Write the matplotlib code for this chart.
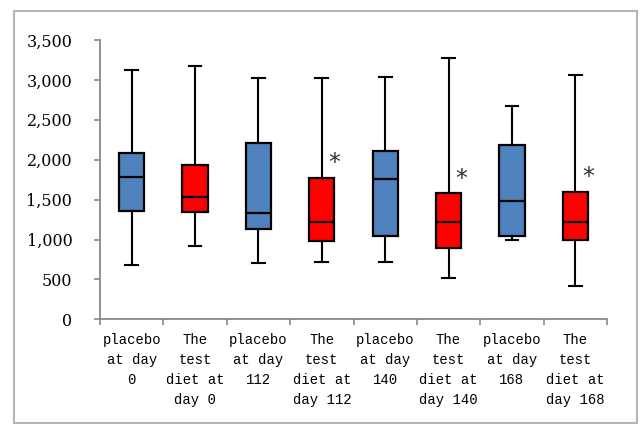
import matplotlib
matplotlib.use('Agg')
import matplotlib.pyplot as plt
from matplotlib.patches import Rectangle

# Box statistics per group
groups = ['placebo\nat day\n0', 'The\ntest\ndiet at\nday 0',
          'placebo\nat day\n112', 'The\ntest\ndiet at\nday 112',
          'placebo\nat day\n140', 'The\ntest\ndiet at\nday 140',
          'placebo\nat day\n168', 'The\ntest\ndiet at\nday 168']
whis_low = [680, 922, 702, 714, 722, 518, 994, 414]
q1 = [1361, 1348, 1128, 977, 1048, 890, 1044, 994]
median = [1787, 1529, 1336, 1216, 1762, 1223, 1486, 1223]
q3 = [2080, 1934, 2206, 1775, 2109, 1579, 2188, 1599]
whis_high = [3124, 3170, 3028, 3020, 3040, 3271, 2677, 3061]
significant = [False, False, False, True, False, True, False, True]
colors = ['#4F81BD', '#FF0000'] * 4

stats = []
for i in range(len(groups)):
    stats.append(dict(whislo=whis_low[i], q1=q1[i], med=median[i],
                      q3=q3[i], whishi=whis_high[i], fliers=[]))

fig = plt.figure(figsize=(6.4, 4.24), dpi=100)
ax = fig.add_axes([0.1563, 0.2469, 0.7921, 0.6588])

positions = list(range(1, len(groups) + 1))
bp = ax.bxp(stats, positions=positions, widths=0.4, patch_artist=True,
            boxprops=dict(linewidth=1.6, edgecolor='black'),
            medianprops=dict(linewidth=1.6, color='black'),
            whiskerprops=dict(linewidth=1.5, color='black'),
            capprops=dict(linewidth=1.5, color='black'))
for patch, c in zip(bp['boxes'], colors):
    patch.set_facecolor(c)

# significance markers
for p, top, sig in zip(positions, q3, significant):
    if sig:
        ax.text(p + 0.2, top + 30, '*', fontsize=17, color='#333333',
                ha='center', va='bottom', family='DejaVu Sans')

ax.set_xlim(0.5, len(groups) + 0.5)
ax.set_ylim(0, 3500)
ax.set_yticks(range(0, 3501, 500))
ax.set_yticklabels([f'{v:,}' for v in range(0, 3501, 500)],
                   family='DejaVu Serif', fontsize=11.5)

ax.set_xticks([p - 0.5 for p in positions] + [len(groups) + 0.5])
ax.set_xticklabels([])
ax.set_xticks(positions, minor=True)
ax.set_xticklabels(groups, minor=True, family='Liberation Mono',
                   fontsize=10, linespacing=1.55)
ax.tick_params(axis='x', which='minor', length=0, pad=10)
ax.tick_params(axis='x', which='major', length=4, width=1.2, color='#888888')
ax.tick_params(axis='y', length=4, width=1.2, color='#888888', pad=16)

for s in ['top', 'right']:
    ax.spines[s].set_visible(False)
for s in ['left', 'bottom']:
    ax.spines[s].set_color('#888888')
    ax.spines[s].set_linewidth(1.3)

# outer chart frame
fig.patches.append(Rectangle((14 / 640, 1 / 424), 623 / 640, 412 / 424,
                             transform=fig.transFigure, fill=False,
                             edgecolor='#b5b5b5', linewidth=1.5))

fig.savefig('out.png', dpi=100)
